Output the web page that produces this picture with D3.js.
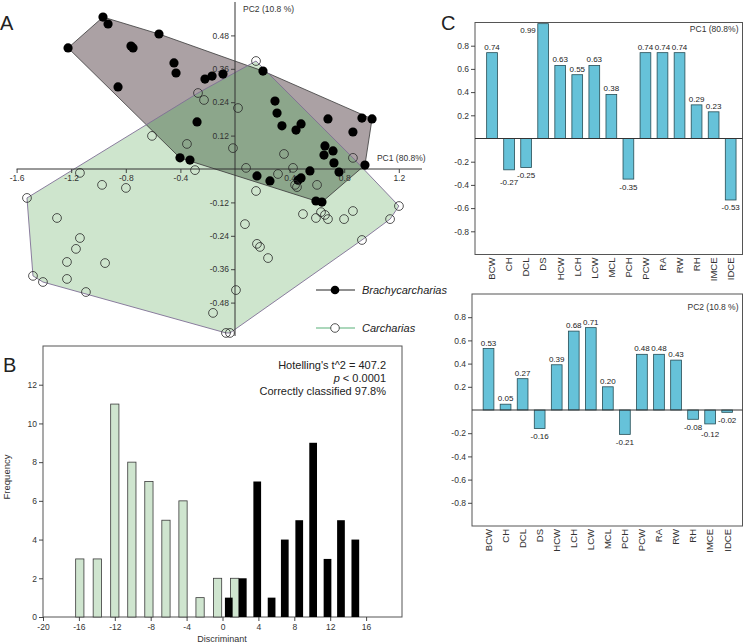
<!DOCTYPE html>
<html><head><meta charset="utf-8">
<script src="https://cdn.jsdelivr.net/npm/d3@7"></script>
<style>
body{margin:0;background:#fff;}
svg{display:block;}
</style></head><body>
<svg id="chart" width="743" height="644"></svg>
<script>
// ---------- Panel A : PCA scores ----------
const brachyPC1 = [-0.967,-0.930,-0.557,-1.223,-0.762,-0.747,-0.447,-0.432,-0.857,-0.278,-0.403,-0.330,-0.220,-0.168,-0.088,0.205,0.293,0.308,0.344,0.447,0.484,0.681,0.930,1.004,0.864,0.659,0.718,0.652,0.161,0.256,0.462,0.484,0.549,0.725,0.762,0.952,0.593,0.637];
const brachyPC2 = [0.546,0.521,0.485,0.435,0.442,0.435,0.381,0.345,0.295,0.169,0.040,0.032,0.323,0.334,0.341,0.352,0.244,0.201,0.155,0.140,0.162,0.180,0.183,0.180,0.133,0.083,0.065,0.050,-0.025,-0.043,-0.040,-0.032,-0.007,0.022,-0.011,0.014,-0.115,-0.119];
const carchPC1 = [-0.608,-0.352,-0.271,-0.227,0.154,0.022,-0.015,0.359,0.864,-1.136,-0.974,-0.799,-1.524,-1.304,-1.136,-1.165,-1.231,-0.952,-1.480,-1.407,-1.231,-1.092,-0.293,0.081,0.425,0.315,0.440,0.454,0.601,0.154,0.498,0.593,0.630,0.659,0.681,0.799,0.864,1.201,1.136,0.930,0.073,0.161,0.183,0.242,0.007,-0.161,-0.066,-0.037];
const carchPC2 = [0.119,0.090,0.273,0.248,0.388,0.219,0.075,0.054,0.040,-0.014,-0.057,-0.068,-0.104,-0.176,-0.248,-0.287,-0.334,-0.338,-0.384,-0.406,-0.395,-0.442,-0.004,0.004,0.004,-0.018,-0.057,-0.065,-0.057,-0.079,-0.162,-0.176,-0.155,-0.165,-0.180,-0.180,-0.151,-0.133,-0.180,-0.255,-0.198,-0.269,-0.280,-0.320,-0.435,-0.517,-0.589,-0.589];
const pcaXTicks = [-1.6,-1.2,-0.8,-0.4,0.4,0.8,1.2];
const pcaYTicks = [0.48,0.36,0.24,0.12,-0.12,-0.24,-0.36,-0.48];
const groupNames = ["Brachycarcharias","Carcharias"];

// ---------- Panel B : discriminant histogram ----------
const carchBins   = [-15.9,-13.95,-12.0,-10.1,-8.2,-6.3,-4.4,-2.5,-0.55,1.35];
const carchCounts = [3,3,11,8,7,5,6,1,2,2];
const brachyBins   = [0.7,2.26,3.87,5.47,6.94,8.55,10.1,11.7,13.2,14.8];
const brachyCounts = [1,2,7,1,4,5,9,3,5,4];
const histXTicks = [-20,-16,-12,-8,-4,0,4,8,12,16];
const histYTicks = [0,2,4,6,8,10,12];
const statLines = ["Hotelling's t^2 = 407.2","< 0.0001","Correctly classified 97.8%"];

// ---------- Panel C : loadings ----------
const variables = ["BCW","CH","DCL","DS","HCW","LCH","LCW","MCL","PCH","PCW","RA","RW","RH","IMCE","IDCE"];
const pc1Loadings = [0.74,-0.27,-0.25,0.99,0.63,0.55,0.63,0.38,-0.35,0.74,0.74,0.74,0.29,0.23,-0.53];
const pc2Loadings = [0.53,0.05,0.27,-0.16,0.39,0.68,0.71,0.20,-0.21,0.48,0.48,0.43,-0.08,-0.12,-0.02];
const loadTicks = [0.8,0.6,0.4,0.2,-0.2,-0.4,-0.6,-0.8];

const FONT = '"Liberation Sans", Arial, Helvetica, sans-serif';
const svg = d3.select("#chart").attr("font-family", FONT);

function styleAxis(g, fs){
  g.attr("font-family", FONT).attr("font-size", fs);
  g.selectAll(".tick line").attr("stroke","#333").attr("stroke-width",0.9);
  g.selectAll(".tick text").attr("fill","#333");
  g.selectAll(".domain").remove();
}

// ===== Panel A =====
const xA = d3.scaleLinear().domain([-1.6, 1.2]).range([16.6, 398.8]);
const yA = d3.scaleLinear().domain([-0.48, 0.48]).range([302.6, 35.4]);
const gA = svg.append("g");
const bPts = brachyPC1.map((v,i)=>[xA(v), yA(brachyPC2[i])]);
const cPts = carchPC1.map((v,i)=>[xA(v), yA(carchPC2[i])]);
const bHull = "M"+d3.polygonHull(bPts).join("L")+"Z";
const cHull = "M"+d3.polygonHull(cPts).join("L")+"Z";
svg.append("defs").append("clipPath").attr("id","clipB").append("path").attr("d",bHull);
gA.append("path").attr("d",cHull).attr("fill","#cee5cd");
gA.append("path").attr("d",bHull).attr("fill","#aba1a4");
gA.append("path").attr("d",cHull).attr("clip-path","url(#clipB)").attr("fill","#8ca68b");
gA.append("path").attr("d",bHull).attr("fill","none").attr("stroke","#3a3a3a").attr("stroke-width",0.8);
gA.append("path").attr("d",cHull).attr("fill","none").attr("stroke","#7f6f95").attr("stroke-width",0.9);

const axAx = gA.append("g").attr("transform",`translate(0,${yA(0)})`)
  .call(d3.axisBottom(xA).tickValues(pcaXTicks).tickSize(4).tickPadding(2).tickFormat(d=>d.toFixed(1)));
styleAxis(axAx, 8.5);
const axAy = gA.append("g").attr("transform",`translate(${xA(0)},0)`)
  .call(d3.axisLeft(yA).tickValues(pcaYTicks).tickSize(4).tickPadding(2).tickFormat(d=>d.toFixed(2)));
styleAxis(axAy, 8.5);
gA.append("line").attr("x1",xA(-1.6)).attr("x2",xA(1.37)).attr("y1",yA(0)).attr("y2",yA(0)).attr("stroke","#333");
gA.append("line").attr("x1",xA(0)).attr("x2",xA(0)).attr("y1",yA(0.6)).attr("y2",yA(-0.6)).attr("stroke","#333");
gA.append("text").attr("x",xA(0)+8).attr("y",12).attr("font-size",8.5).attr("fill","#333").text("PC2 (10.8 %)");
gA.append("text").attr("x",xA(1.04)).attr("y",yA(0)-8).attr("font-size",8.5).attr("fill","#333").text("PC1 (80.8%)");

gA.selectAll("circle.b").data(bPts).join("circle").attr("class","b")
  .attr("cx",d=>d[0]).attr("cy",d=>d[1]).attr("r",4.6).attr("fill","#000");
gA.selectAll("circle.c").data(cPts).join("circle").attr("class","c")
  .attr("cx",d=>d[0]).attr("cy",d=>d[1]).attr("r",4.4).attr("fill","none")
  .attr("stroke","#2a2a2a").attr("stroke-width",0.8);

// legend
const leg = svg.append("g");
[[290,"#222",true],[328,"#8fcaa5",false]].forEach((s,i)=>{
  leg.append("line").attr("x1",316).attr("x2",355).attr("y1",s[0]).attr("y2",s[0])
    .attr("stroke",s[1]).attr("stroke-width",i?1.6:1);
  leg.append("circle").attr("cx",335).attr("cy",s[0]).attr("r",4.3)
    .attr("fill",s[2]?"#000":"#fff").attr("stroke",s[2]?"none":"#2a2a2a").attr("stroke-width",0.8);
  leg.append("text").attr("x",362).attr("y",s[0]+4).attr("font-size",11).attr("font-style","italic")
    .attr("fill","#222").text(groupNames[i]);
});
svg.append("text").attr("x",0).attr("y",30).attr("font-size",20).attr("fill","#222").text("A");

// ===== Panel B =====
const xB = d3.scaleLinear().domain([-20,20]).range([43,402]);
const yB = d3.scaleLinear().domain([0,14]).range([617,346]);
const gB = svg.append("g");
gB.append("rect").attr("x",43).attr("y",346).attr("width",359).attr("height",271)
  .attr("fill","none").attr("stroke","#555").attr("stroke-width",1);
gB.selectAll("rect.cb").data(carchBins).join("rect").attr("class","cb")
  .attr("x",d=>xB(d-0.46)).attr("width",xB(0.92)-xB(0))
  .attr("y",(d,i)=>yB(carchCounts[i])).attr("height",(d,i)=>yB(0)-yB(carchCounts[i]))
  .attr("fill","#cfe5cf").attr("stroke","#3a3a3a").attr("stroke-width",0.8);
gB.selectAll("rect.bb").data(brachyBins).join("rect").attr("class","bb")
  .attr("x",d=>xB(d-0.43)).attr("width",xB(0.86)-xB(0))
  .attr("y",(d,i)=>yB(brachyCounts[i])).attr("height",(d,i)=>yB(0)-yB(brachyCounts[i]))
  .attr("fill","#000");
const axBx = gB.append("g").attr("transform","translate(0,617)")
  .call(d3.axisBottom(xB).tickValues(histXTicks).tickSize(4).tickPadding(3).tickFormat(d=>String(d)));
styleAxis(axBx, 8.5);
const axBy = gB.append("g").attr("transform","translate(43,0)")
  .call(d3.axisLeft(yB).tickValues(histYTicks).tickSize(4).tickPadding(2).tickFormat(d=>String(d)));
styleAxis(axBy, 8.5);
gB.append("text").attr("transform","translate(10,477) rotate(-90)").attr("text-anchor","middle")
  .attr("font-size",9.5).attr("fill","#333").text("Frequency");
gB.append("text").attr("x",222).attr("y",642).attr("text-anchor","middle")
  .attr("font-size",9).attr("fill","#333").text("Discriminant");
const st = gB.append("g").attr("font-size",11).attr("fill","#222").attr("text-anchor","end");
st.append("text").attr("x",386).attr("y",368.5).text(statLines[0]);
const pl = st.append("text").attr("x",386).attr("y",381.5);
pl.append("tspan").attr("font-style","italic").text("p");
pl.append("tspan").text(" "+statLines[1]);
st.append("text").attr("x",386).attr("y",394.5).text(statLines[2]);
svg.append("text").attr("x",3).attr("y",372).attr("font-size",20).attr("fill","#222").text("B");

// ===== Panel C =====
function loadingsChart(vals, box, bandRange, title, titleY){
  const g = svg.append("g");
  const x = d3.scaleBand().domain(variables).range(bandRange).paddingInner(0.37).paddingOuter(0.185);
  const y = d3.scaleLinear().domain([-1,1]).range([box.b, box.t]);
  g.append("rect").attr("x",box.l).attr("y",box.t).attr("width",box.r-box.l).attr("height",box.b-box.t)
    .attr("fill","none").attr("stroke","#555").attr("stroke-width",1);
  g.selectAll("rect.bar").data(vals).join("rect").attr("class","bar")
    .attr("x",(d,i)=>x(variables[i])).attr("width",x.bandwidth())
    .attr("y",d=>y(Math.max(0,d))).attr("height",d=>Math.abs(y(d)-y(0)))
    .attr("fill","#66c2d9").attr("stroke","#264d55").attr("stroke-width",0.8);
  g.append("line").attr("x1",box.l).attr("x2",box.r).attr("y1",y(0)).attr("y2",y(0)).attr("stroke","#333");
  const ay = g.append("g").attr("transform",`translate(${box.l},0)`)
    .call(d3.axisLeft(y).tickValues(loadTicks).tickSize(4).tickPadding(2).tickFormat(d=>d.toFixed(1)));
  styleAxis(ay, 8.5);
  variables.forEach(v=>{
    g.append("text").attr("transform",`translate(${x(v)+x.bandwidth()/2},${box.b+3}) rotate(-90)`)
      .attr("text-anchor","end").attr("dy","0.35em").attr("font-size",9.5).attr("fill","#333").text(v);
  });
  const order = d3.range(vals.length).sort((a,b)=>Math.abs(vals[a])-Math.abs(vals[b]) || a-b);
  const placed = [];
  const H = 6;
  order.forEach(i=>{
    const v = vals[i], cat = variables[i];
    let cx = x(cat)+x.bandwidth()/2, anchor = "middle", base;
    if (v >= 0){
      base = y(v)-3;
      if (base-H < box.t){ anchor = "end"; cx = x(cat)-2; base = y(v)+9; }
    } else base = y(v)+10.5;
    const t = g.append("text").attr("font-size",8).attr("fill","#222").attr("text-anchor",anchor)
      .attr("x",cx).text(v.toFixed(2));
    const w = t.node().getComputedTextLength();
    const x0 = anchor==="middle" ? cx-w/2 : cx-w, x1 = x0+w;
    let moved = true, guard = 0;
    while (moved && guard++ < 20){
      moved = false;
      for (const p of placed){
        if (x0 < p.x1 && x1 > p.x0 && base-H < p.b && base > p.b-H){
          base = v >= 0 ? p.b-H-1 : p.b+H+1; moved = true;
        }
      }
    }
    t.attr("y",base);
    placed.push({x0,x1,b:base});
  });
  g.append("text").attr("x",box.r-4).attr("y",titleY).attr("text-anchor","end")
    .attr("font-size",8.5).attr("fill","#333").text(title);
}
loadingsChart(pc1Loadings, {l:475,r:742.5,t:22.5,b:254.5}, [483.5,739.2], "PC1 (80.8%)", 32);
loadingsChart(pc2Loadings, {l:472,r:742.5,t:294,b:526}, [480,735.7], "PC2 (10.8 %)", 309.5);
svg.append("text").attr("x",441).attr("y",30).attr("font-size",20).attr("fill","#222").text("C");
</script>
</body></html>
